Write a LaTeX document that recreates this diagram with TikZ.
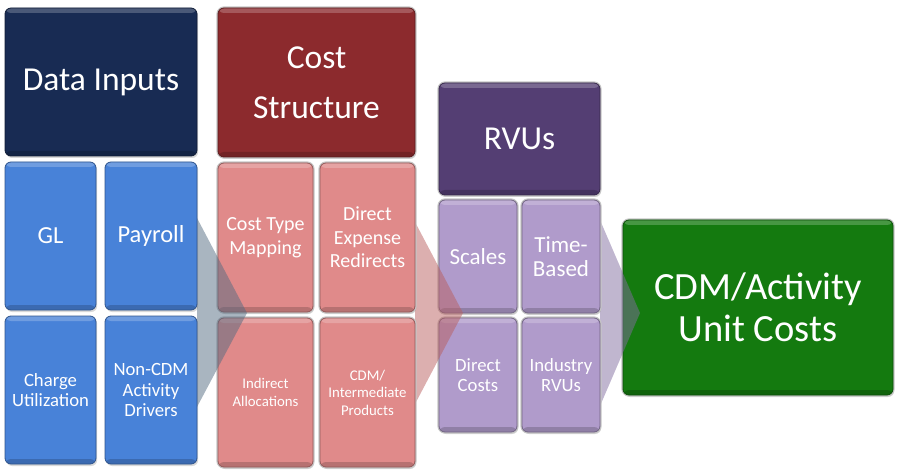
\documentclass[tikz,border=0pt]{standalone}
\usepackage{fontspec}
\setmainfont{Carlito}
\usepackage{xcolor}
\usetikzlibrary{calc,shadows}
\definecolor{navy}{RGB}{24,43,83}
\definecolor{tileblue}{RGB}{72,130,216}
\definecolor{costred}{RGB}{140,42,45}
\definecolor{costpink}{RGB}{224,138,138}
\definecolor{rvupurple}{RGB}{84,62,115}
\definecolor{lilac}{RGB}{176,155,203}
\definecolor{unitgreen}{RGB}{20,122,15}
\definecolor{arrowgray}{RGB}{83,107,129}
\definecolor{arrowpink}{RGB}{185,95,95}
\definecolor{arrowlilac}{RGB}{130,110,160}

\begin{document}
\begin{tikzpicture}[x=1pt, y=-1pt,
  tile/.style={rounded corners=6pt, fill=#1, draw=#1!65!black, line width=0.8pt,
    drop shadow={shadow xshift=1.2pt, shadow yshift=-2pt, opacity=0.3},
    path picture={
      \fill[white, opacity=0.22] (path picture bounding box.north west) rectangle ([yshift=-5pt]path picture bounding box.north east);
      \fill[black, opacity=0.18] (path picture bounding box.south west) rectangle ([yshift=5pt]path picture bounding box.south east);},
    text=white, align=center, inner sep=1pt},
  ringed/.style={preaction={draw=gray!45, line width=3.2pt}},
  chevron/.style={fill=#1, opacity=0.5},
  huge/.style={font=\fontsize{33.5}{50}\selectfont},
  large/.style={font=\fontsize{24.5}{29}\selectfont},
  mid/.style={font=\fontsize{20}{23.5}\selectfont},
  midplus/.style={font=\fontsize{23}{24.5}\selectfont},
  small/.style={font=\fontsize{18.7}{20}\selectfont},
  tiny/.style={font=\fontsize{14.8}{17.5}\selectfont}]
\useasboundingbox (0,0) rectangle (900,473);
\node[tile=unitgreen, ringed, minimum width=270pt, minimum height=175pt, font=\fontsize{38.5}{41.5}\selectfont] (unit) at (758,307.5) {CDM/Activity\\Unit Costs};
\fill[chevron=arrowlilac] (600,220) -- (640,313) -- (600,406) -- cycle;
\node[tile=rvupurple, ringed, minimum width=161pt, minimum height=112pt, huge] (rvus) at (519.5,139) {RVUs};
\node[tile=lilac, ringed, minimum width=78pt, minimum height=113pt, midplus] (scales) at (478,256.5) {Scales};
\node[tile=lilac, ringed, minimum width=78pt, minimum height=113pt, midplus] (timebased) at (561,256.5) {Time-\\Based};
\node[tile=lilac, ringed, minimum width=78pt, minimum height=114pt, small] (directcosts) at (478,375) {Direct\\Costs};
\node[tile=lilac, ringed, minimum width=78pt, minimum height=114pt, small] (industry) at (561,375) {Industry\\RVUs};
\fill[chevron=arrowpink] (415,222) -- (463,313) -- (415,404) -- cycle;
\node[tile=costred, ringed, minimum width=197pt, minimum height=149pt, huge] (cost) at (316.5,82.5) {Cost\\Structure};
\node[tile=costpink, ringed, minimum width=95pt, minimum height=149pt, mid] (mapping) at (265.5,237.5) {Cost Type\\Mapping};
\node[tile=costpink, ringed, minimum width=95pt, minimum height=149pt, mid] (redirects) at (367.5,237.5) {Direct\\Expense\\Redirects};
\node[tile=costpink, ringed, minimum width=95pt, minimum height=149pt, tiny] (allocations) at (265.5,392.5) {Indirect\\Allocations};
\node[tile=costpink, ringed, minimum width=95pt, minimum height=149pt, tiny] (products) at (367.5,392.5) {CDM/\\Intermediate\\Products};
\fill[chevron=arrowgray] (197,218) -- (247,313) -- (197,407) -- cycle;
\node[tile=navy, minimum width=192pt, minimum height=148pt, huge] (inputs) at (101,82) {Data Inputs};
\node[tile=tileblue, minimum width=91pt, minimum height=148pt, large] (gl) at (50.5,236) {GL};
\node[tile=tileblue, minimum width=92pt, minimum height=148pt, large] (payroll) at (151,236) {Payroll};
\node[tile=tileblue, minimum width=91pt, minimum height=148pt, small] (charge) at (50.5,390) {Charge\\Utilization};
\node[tile=tileblue, minimum width=92pt, minimum height=148pt, small] (drivers) at (151,390) {Non-CDM\\Activity\\Drivers};
\end{tikzpicture}
\end{document}
